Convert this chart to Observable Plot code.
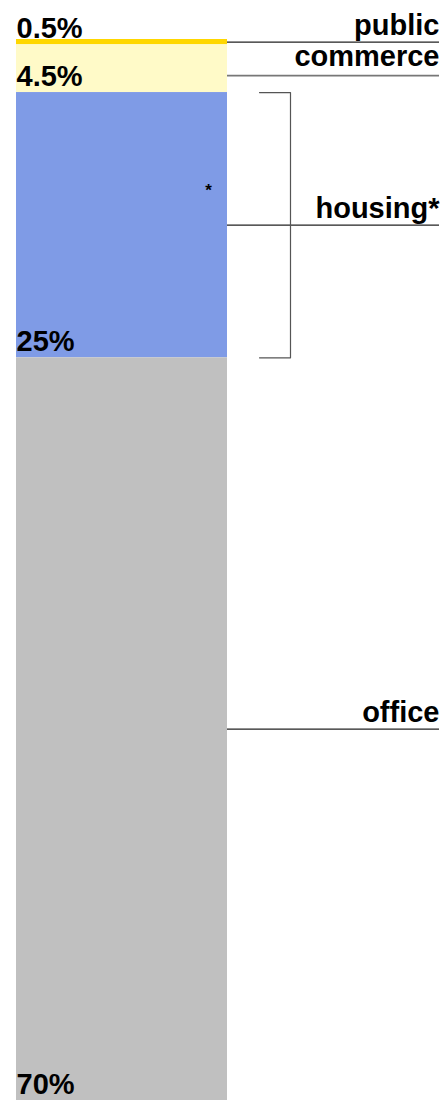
<!DOCTYPE html>
<html>
<head>
<meta charset="utf-8">
<script src="https://cdn.jsdelivr.net/npm/d3@7"></script>
<script src="https://cdn.jsdelivr.net/npm/@observablehq/plot@0.6"></script>
<style>
  html, body { margin: 0; padding: 0; background: #fff; }
  #chart svg { display: block; }
</style>
</head>
<body>
<div id="chart"></div>
<script>
// ---- data ----
const categories = ["public", "commerce", "housing", "office"];
const shares = [0.5, 4.5, 25, 70];
const valueLabels = ["0.5%", "4.5%", "25%", "70%"];
const sideLabels = ["public", "commerce", "housing*", "office"];

// ---- styling / layout (not data) ----
const colors = ["#ffd700", "#fffac8", "#7f9be6", "#c0c0c0"];
const L = { barLeft: 16, barRight: 227, lineEnd: 439, bracketIn: 259, bracketOut: 290, starX: 208 };
const font = "Liberation Sans, Arial, Helvetica, sans-serif";
const FS = 29;

const ends = d3.cumsum(shares);
const rows = categories.map((c, i) => ({
  cat: c,
  y1: ends[i] - shares[i],
  y2: ends[i],
  mid: ends[i] - shares[i] / 2,
  value: valueLabels[i],
  side: sideLabels[i]
}));
const housing = rows.find(d => d.cat === "housing");
const bracket = [
  { x: L.bracketIn, y: housing.y1 },
  { x: L.bracketOut, y: housing.y1 },
  { x: L.bracketOut, y: housing.y2 },
  { x: L.bracketIn, y: housing.y2 }
];
const plain = rows.filter(d => d.cat !== "commerce");
const commerce = rows.filter(d => d.cat === "commerce");

const chart = Plot.plot({
  width: 441,
  height: 1100,
  margin: 0,
  style: { fontFamily: font, background: "#fff", overflow: "visible" },
  x: { type: "linear", domain: [0, 441], range: [0, 441], axis: null },
  y: { domain: [0, 100], range: [39, 1100], axis: null },
  color: { domain: categories, range: colors },
  marks: [
    Plot.rectY(rows, { x1: L.barLeft, x2: L.barRight, y1: "y1", y2: "y2", fill: "cat" }),
    // leader lines
    Plot.ruleY(plain, { y: "mid", x1: L.barRight, x2: L.lineEnd, stroke: "#222", strokeWidth: 1.2 }),
    Plot.ruleY(commerce, { y: "mid", dy: 7, x1: L.barRight, x2: L.lineEnd, stroke: "#777", strokeWidth: 1.8 }),
    // bracket around housing
    Plot.line(bracket, { x: "x", y: "y", stroke: "#555", strokeWidth: 1.2 }),
    // value labels
    Plot.text(rows, {
      x: L.barLeft, y: "y2", dy: -7, text: "value", textAnchor: "start", lineAnchor: "bottom",
      fontSize: FS, fontWeight: "bold", fill: "#000"
    }),
    // side labels
    Plot.text(plain, {
      x: L.lineEnd, y: "mid", dy: -7, text: "side", textAnchor: "end", lineAnchor: "bottom",
      fontSize: FS, fontWeight: "bold", fill: "#000"
    }),
    Plot.text(commerce, {
      x: L.lineEnd, y: "mid", dy: -3, text: "side", textAnchor: "end", lineAnchor: "bottom",
      fontSize: FS, fontWeight: "bold", fill: "#000"
    }),
    // asterisk marker in housing bar
    Plot.text([housing], {
      x: L.starX, y: "y1", dy: 98, text: () => "*", textAnchor: "middle", lineAnchor: "middle",
      fontSize: 17, fontWeight: "bold", fill: "#000"
    })
  ]
});
document.getElementById("chart").appendChild(chart);
</script>
</body>
</html>
